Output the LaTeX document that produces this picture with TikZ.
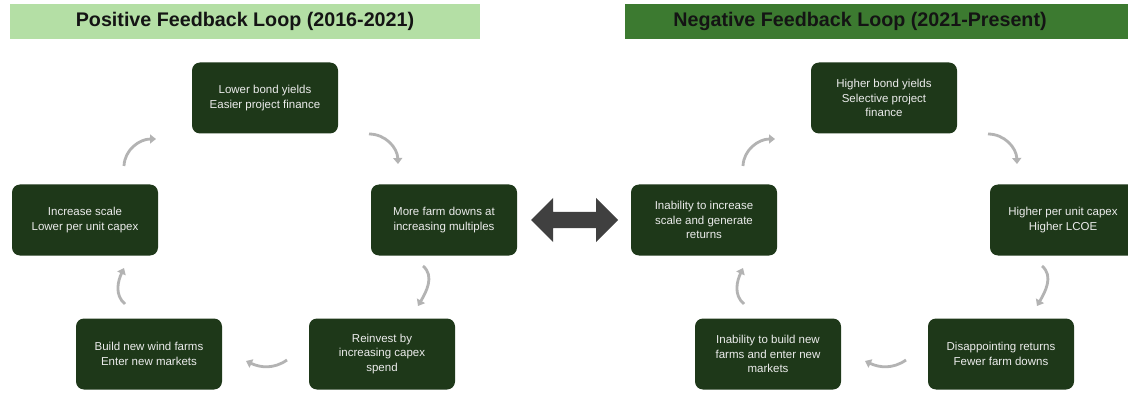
\documentclass[tikz,border=0pt]{standalone}
\usepackage{fontspec}
\setmainfont{Liberation Sans}
\usetikzlibrary{arrows.meta}
\definecolor{boxgreen}{HTML}{1E3819}
\definecolor{boxtext}{HTML}{ECECEC}
\definecolor{lightbar}{HTML}{B4DFA5}
\definecolor{darkbar}{HTML}{3C7A30}
\definecolor{cycgray}{HTML}{B3B3B3}
\definecolor{dblgray}{HTML}{404040}
\tikzset{
  stagebox/.style={draw=none, fill=boxgreen, rounded corners=8pt, minimum width=146pt, minimum height=71pt,
    inner sep=0pt, align=center, text=boxtext, font=\fontsize{11.5}{14.8}\selectfont},
  titletext/.style={font=\bfseries\fontsize{19.7}{22}\selectfont, text=black!92},
  cyc/.style={draw=cycgray, line width=2.8pt, -{Triangle[length=6pt,width=9pt]}},
}
\begin{document}
\begin{tikzpicture}[x=1pt,y=-1pt]
\clip (0,0) rectangle (1128,393);
\fill[white] (0,0) rectangle (1128,393);
% title bars
\fill[lightbar] (10,4) rectangle (480,39);
\node[titletext] (t1) at (245,21.5) {Positive Feedback Loop (2016-2021)};
\fill[darkbar] (625,4) rectangle (1130,39);
\node[titletext] (t2) at (860,21.5) {Negative Feedback Loop (2021-Present)};
% left loop
\node[stagebox] (lT) at (265,98) {Lower bond yields\\Easier project finance};
\node[stagebox] (lR) at (444,220) {More farm downs at\\increasing multiples};
\node[stagebox] (lBR) at (382,354) {Reinvest by\\increasing capex\\spend};
\node[stagebox] (lBL) at (149,354) {Build new wind farms\\Enter new markets};
\node[stagebox] (lL) at (85,220) {Increase scale\\Lower per unit capex};
% right loop
\node[stagebox] (rT) at (884,98) {Higher bond yields\\Selective project\\finance};
\node[stagebox] (rR) at (1063,220) {Higher per unit capex\\Higher LCOE};
\node[stagebox] (rBR) at (1001,354) {Disappointing returns\\Fewer farm downs};
\node[stagebox] (rBL) at (768,354) {Inability to build new\\farms and enter new\\markets};
\node[stagebox] (rL) at (704,220) {Inability to increase\\scale and generate\\returns};
% cycle arrows, left
\coordinate (la1s) at (124,166); \coordinate (la1e) at (156,139);
\coordinate (la2s) at (369,134); \coordinate (la2e) at (398,164);
\coordinate (la3s) at (423,266); \coordinate (la3e) at (418,306);
\coordinate (la4s) at (287,360); \coordinate (la4e) at (246,361);
\coordinate (la5s) at (125,304); \coordinate (la5e) at (124,268);
\draw[cyc] (la1s) to[out=88,in=180] (la1e);
\draw[cyc] (la2s) to[out=0,in=92] (la2e);
\draw[cyc] (la3s) to[out=-40,in=60] (la3e);
\draw[cyc] (la4s) to[out=-145,in=-25] (la4e);
\draw[cyc] (la5s) to[out=140,in=-115] (la5e);
% cycle arrows, right
\coordinate (ra1s) at (743,166); \coordinate (ra1e) at (775,139);
\coordinate (ra2s) at (988,134); \coordinate (ra2e) at (1017,164);
\coordinate (ra3s) at (1042,266); \coordinate (ra3e) at (1037,306);
\coordinate (ra4s) at (906,360); \coordinate (ra4e) at (865,361);
\coordinate (ra5s) at (744,304); \coordinate (ra5e) at (743,268);
\draw[cyc] (ra1s) to[out=88,in=180] (ra1e);
\draw[cyc] (ra2s) to[out=0,in=92] (ra2e);
\draw[cyc] (ra3s) to[out=-40,in=60] (ra3e);
\draw[cyc] (ra4s) to[out=-145,in=-25] (ra4e);
\draw[cyc] (ra5s) to[out=140,in=-115] (ra5e);
% double arrow between loops
\fill[dblgray] (531,220) -- (553,198) -- (553,212) -- (596,212) -- (596,198) -- (618,220)
  -- (596,242) -- (596,228) -- (553,228) -- (553,242) -- cycle;
\end{tikzpicture}
\end{document}
